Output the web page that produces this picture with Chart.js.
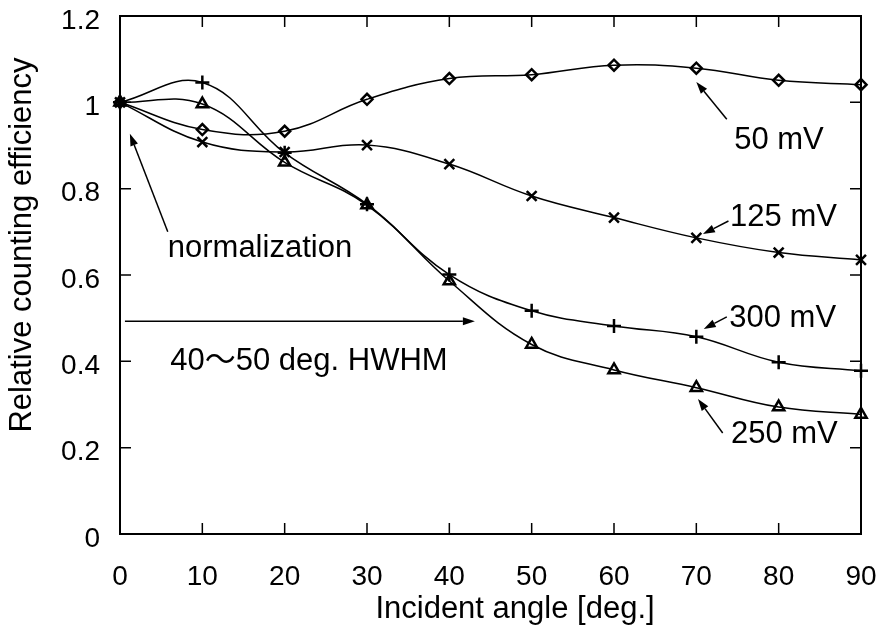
<!DOCTYPE html>
<html>
<head>
<meta charset="utf-8">
<script src="https://cdn.jsdelivr.net/npm/chart.js@4/dist/chart.umd.min.js"></script>
<style>
    html, body { margin: 0; padding: 0; background: #fff; }
    canvas { display: block; }
</style>
</head>
<body>
<canvas id="chart" width="885" height="633"></canvas>
<script>
// データ (入射角 [deg.] と相対計数効率)
const angles = [0, 10, 20, 30, 40, 50, 60, 70, 80, 90];
const eff50mV = [1.0, 0.937, 0.933, 1.007, 1.055, 1.064, 1.086, 1.079, 1.051, 1.041];
const eff125mV = [1.0, 0.908, 0.885, 0.901, 0.857, 0.783, 0.733, 0.686, 0.652, 0.635];
const eff300mV = [1.0, 1.046, 0.883, 0.764, 0.601, 0.517, 0.482, 0.457, 0.398, 0.378];
const eff250mV = [1.0, 0.996, 0.861, 0.762, 0.586, 0.439, 0.380, 0.339, 0.294, 0.277];
const xTicks = [0, 10, 20, 30, 40, 50, 60, 70, 80, 90];
const yTicks = [0, 0.2, 0.4, 0.6, 0.8, 1.0, 1.2];

// 注記 (データ座標)
const labels = [
    { text: "normalization", x: 5.8, y: 0.642 },
    { text: "40～50 deg. HWHM", x: 6.1, y: 0.380 },
    { text: "50 mV", x: 74.6, y: 0.892 },
    { text: "125 mV", x: 74.1, y: 0.713 },
    { text: "300 mV", x: 74.0, y: 0.479 },
    { text: "250 mV", x: 74.2, y: 0.211 },
];
const arrows = [
    { from: [5.8, 0.70], to: [1.2, 0.927] },
    { from: [0.6, 0.493], to: [43.1, 0.493] },
    { from: [73.7, 0.961], to: [70.0, 1.047] },
    { from: [73.9, 0.725], to: [70.8, 0.695] },
    { from: [73.7, 0.503], to: [70.9, 0.475] },
    { from: [73.2, 0.234], to: [70.2, 0.313] },
];

const FONT = '"Liberation Sans", "Noto Sans CJK JP", Arial, sans-serif';

function toPoints(values) {
    return angles.map((a, i) => ({ x: a, y: values[i] }));
}

function series(values, style, radius) {
    return {
        data: toPoints(values),
        borderColor: "#000",
        borderWidth: 1.5,
        pointStyle: style,
        pointRadius: radius,
        pointBorderWidth: 2.5,
        pointBorderColor: "#000",
        pointBackgroundColor: "rgba(0,0,0,0)",
        tension: 0.4,
        fill: false,
        clip: false,
    };
}

// 軸の大きさを固定 (端のラベル用の余白も消す)
function fixSize(w, h) {
    return s => {
        if (w !== null) s.width = w;
        if (h !== null) s.height = h;
        s.paddingLeft = 0;
        s.paddingRight = 0;
        s.paddingTop = 0;
        s.paddingBottom = 0;
    };
}

const whiteBg = {
    id: "whiteBg",
    beforeDraw(chart) {
        const c = chart.ctx;
        c.save();
        c.fillStyle = "#fff";
        c.fillRect(0, 0, chart.width, chart.height);
        c.restore();
    }
};

const extras = {
    id: "extras",
    afterDraw(chart) {
        const c = chart.ctx;
        const xs = chart.scales.x;
        const ys = chart.scales.y;
        const area = chart.chartArea;
        c.save();
        c.strokeStyle = "#000";
        c.fillStyle = "#000";

        // 内向きの目盛り
        c.lineWidth = 1.5;
        const len = 11;
        c.beginPath();
        xTicks.slice(1, -1).forEach(t => {
            const px = xs.getPixelForValue(t);
            c.moveTo(px, area.bottom); c.lineTo(px, area.bottom - len);
            c.moveTo(px, area.top); c.lineTo(px, area.top + len);
        });
        yTicks.slice(1, -1).forEach(t => {
            const py = ys.getPixelForValue(t);
            c.moveTo(area.left, py); c.lineTo(area.left + len, py);
            c.moveTo(area.right, py); c.lineTo(area.right - len, py);
        });
        c.stroke();

        // 矢印
        arrows.forEach(a => {
            const x1 = xs.getPixelForValue(a.from[0]), y1 = ys.getPixelForValue(a.from[1]);
            const x2 = xs.getPixelForValue(a.to[0]), y2 = ys.getPixelForValue(a.to[1]);
            const ang = Math.atan2(y2 - y1, x2 - x1);
            const head = 12, hw = 4;
            c.lineWidth = 1.5;
            c.beginPath();
            c.moveTo(x1, y1);
            c.lineTo(x2 - head * Math.cos(ang), y2 - head * Math.sin(ang));
            c.stroke();
            c.beginPath();
            c.moveTo(x2, y2);
            c.lineTo(x2 - head * Math.cos(ang) + hw * Math.sin(ang), y2 - head * Math.sin(ang) - hw * Math.cos(ang));
            c.lineTo(x2 - head * Math.cos(ang) - hw * Math.sin(ang), y2 - head * Math.sin(ang) + hw * Math.cos(ang));
            c.closePath();
            c.fill();
        });

        // 注記テキスト
        c.font = "31px " + FONT;
        c.textAlign = "left";
        c.textBaseline = "alphabetic";
        labels.forEach(l => {
            c.fillText(l.text, xs.getPixelForValue(l.x), ys.getPixelForValue(l.y));
        });

        // 軸タイトル
        c.textAlign = "center";
        c.fillText("Incident angle [deg.]", 515, 618);
        c.translate(22, 245);
        c.rotate(-Math.PI / 2);
        c.textBaseline = "middle";
        c.fillText("Relative counting efficiency", 0, 0);
        c.restore();
    }
};

const tickFont = { family: FONT, size: 28 };

new Chart(document.getElementById("chart"), {
    type: "line",
    data: {
        datasets: [
            series(eff50mV, "rectRot", 5.5),
            series(eff125mV, "crossRot", 7),
            series(eff300mV, "cross", 7),
            series(eff250mV, "triangle", 6.5),
        ]
    },
    options: {
        responsive: false,
        animation: false,
        layout: { padding: 0 },
        plugins: { legend: { display: false }, tooltip: { enabled: false } },
        scales: {
            x: {
                type: "linear", position: "bottom", min: 0, max: 90,
                afterBuildTicks: s => { s.ticks = xTicks.map(v => ({ value: v })); },
                ticks: { font: tickFont, color: "#000", padding: 26, maxRotation: 0, autoSkip: false },
                grid: { display: false, drawTicks: false },
                border: { display: true, color: "#000", width: 2 },
                afterFit: fixSize(null, 99),
            },
            x2: {
                type: "linear", position: "top", min: 0, max: 90,
                ticks: { display: false },
                grid: { display: false, drawTicks: false },
                border: { display: true, color: "#000", width: 2 },
                afterFit: fixSize(null, 16),
            },
            y: {
                type: "linear", position: "left", min: 0, max: 1.2,
                afterBuildTicks: s => { s.ticks = yTicks.map(v => ({ value: v })); },
                ticks: {
                    font: tickFont, color: "#000", padding: 20, labelOffset: 5,
                    callback: v => String(Number(v.toFixed(1))),
                },
                grid: { display: false, drawTicks: false },
                border: { display: true, color: "#000", width: 2 },
                afterFit: fixSize(120, null),
            },
            y2: {
                type: "linear", position: "right", min: 0, max: 1.2,
                ticks: { display: false },
                grid: { display: false, drawTicks: false },
                border: { display: true, color: "#000", width: 2 },
                afterFit: fixSize(24, null),
            },
        }
    },
    plugins: [whiteBg, extras]
});
</script>
</body>
</html>
